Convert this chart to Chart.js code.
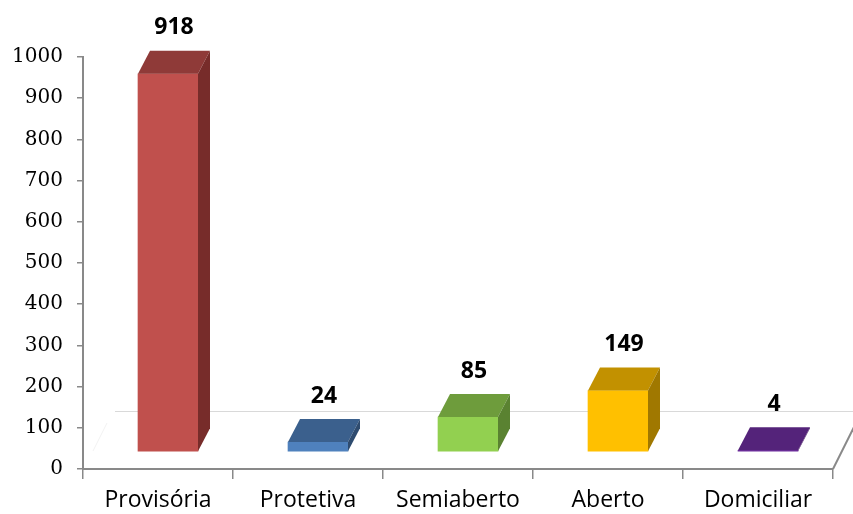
<!DOCTYPE html>
<html>
<head>
<meta charset="utf-8">
<script src="https://cdn.jsdelivr.net/npm/chart.js@4"></script>
<style>
  html, body { margin: 0; padding: 0; background: #fff; }
  #wrap { width: 853px; height: 514px; }
</style>
</head>
<body>
<div id="wrap"><canvas id="regimes" width="853" height="514"></canvas></div>
<script>
// data
var categories = ["Provisória", "Protetiva", "Semiaberto", "Aberto", "Domiciliar"];
var values = [918, 24, 85, 149, 4];
var yMin = 0, yMax = 1000, yStep = 100;

// face colours (front / top / side) for each bar
var frontColors = ["#C0504D", "#4F81BD", "#92D050", "#FFC000", "#7030A0"];
var topColors = ["#8F3A38", "#3B608D", "#6E9C3C", "#C29100", "#54237A"];
var sideColors = ["#772C2A", "#2E4B6F", "#5A8231", "#A07800", "#44195F"];

var shiftX = 10, shiftY = -17; // Excel 3D: bars sit a bit behind the axis plane
var depthX = 12, depthY = -23;

var bar3d = {
  id: "bar3d",
  beforeDatasetsDraw: function (chart) {
    var ctx = chart.ctx, a = chart.chartArea;
    ctx.save();
    // back edge of the floor
    ctx.strokeStyle = "#D9D9D9";
    ctx.lineWidth = 1;
    ctx.beginPath();
    ctx.moveTo(a.left + 32, a.bottom - 57.5);
    ctx.lineTo(chart.width, a.bottom - 57.5);
    ctx.stroke();
    // right edge of the floor
    ctx.strokeStyle = "#898989";
    ctx.lineWidth = 2;
    ctx.beginPath();
    ctx.moveTo(a.right, a.bottom);
    ctx.lineTo(a.right + 32, a.bottom - 64);
    ctx.stroke();
    // faint left edge
    ctx.strokeStyle = "#F2F2F2";
    ctx.lineWidth = 1;
    ctx.beginPath();
    ctx.moveTo(a.left + 10, a.bottom - 18);
    ctx.lineTo(a.left + 24, a.bottom - 46);
    ctx.stroke();
    ctx.restore();
    ctx.save();
    ctx.translate(shiftX, shiftY);
  },
  afterDatasetsDraw: function (chart) {
    var ctx = chart.ctx;
    var meta = chart.getDatasetMeta(0);
    meta.data.forEach(function (bar, i) {
      var x0 = bar.x - bar.width / 2, x1 = bar.x + bar.width / 2;
      var top = bar.y, bottom = bar.base;
      // top face
      ctx.fillStyle = topColors[i];
      ctx.beginPath();
      ctx.moveTo(x0, top);
      ctx.lineTo(x1, top);
      ctx.lineTo(x1 + depthX, top + depthY);
      ctx.lineTo(x0 + depthX, top + depthY);
      ctx.closePath();
      ctx.fill();
      // side face
      ctx.fillStyle = sideColors[i];
      ctx.beginPath();
      ctx.moveTo(x1, top);
      ctx.lineTo(x1 + depthX, top + depthY);
      ctx.lineTo(x1 + depthX, bottom + depthY);
      ctx.lineTo(x1, bottom);
      ctx.closePath();
      ctx.fill();
      // value label
      ctx.fillStyle = "#000";
      ctx.font = "bold 23px 'Open Sans'";
      ctx.textAlign = "center";
      ctx.textBaseline = "middle";
      ctx.fillText(String(values[i]), bar.x + 6, top - 46);
    });
    ctx.restore();
  }
};

var ctx = document.getElementById("regimes").getContext("2d");
var chart = new Chart(ctx, {
  type: "bar",
  data: {
    labels: categories,
    datasets: [
      {
        data: values,
        backgroundColor: frontColors,
        borderWidth: 0,
        barThickness: 60,
        clip: false
      }
    ]
  },
  options: {
    responsive: false,
    animation: false,
    layout: { padding: { top: 57, right: 20, left: 0, bottom: 0 } },
    plugins: { legend: { display: false }, tooltip: { enabled: false } },
    scales: {
      x: {
        offset: true,
        grid: {
          offset: true,
          drawOnChartArea: false,
          drawTicks: true,
          tickLength: 10,
          color: "#898989",
          lineWidth: 1.5
        },
        border: { color: "#898989", width: 2 },
        ticks: {
          color: "#000",
          font: { family: "'Open Sans'", size: 23 },
          padding: 8
        },
        afterFit: function (scale) { scale.height = 45; }
      },
      y: {
        min: yMin,
        max: yMax,
        ticks: {
          stepSize: yStep,
          color: "#000",
          font: { family: "'DejaVu Serif'", size: 20 },
          padding: 14,
          callback: function (v) { return String(v); }
        },
        grid: {
          drawOnChartArea: false,
          drawTicks: true,
          tickLength: 6,
          color: "#898989",
          lineWidth: 1.5
        },
        border: { color: "#898989", width: 2 },
        afterFit: function (scale) { scale.width = 83; }
      }
    }
  },
  plugins: [bar3d]
});
</script>
</body>
</html>
